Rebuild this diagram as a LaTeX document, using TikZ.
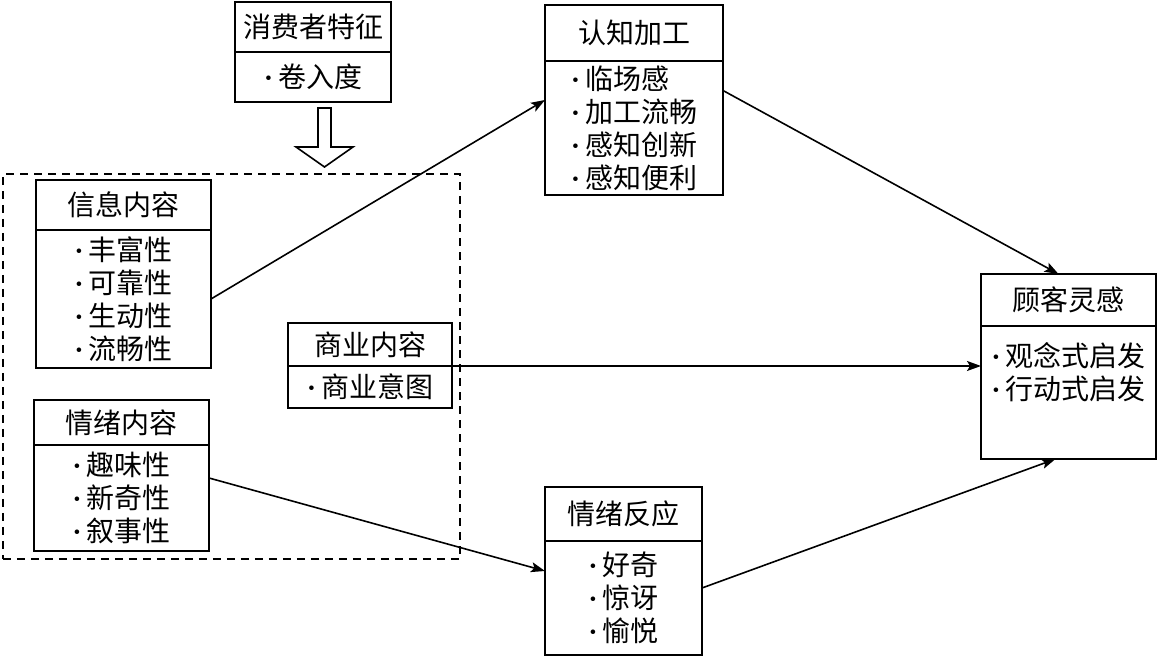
\documentclass[tikz,border=0pt]{standalone}
\usepackage{fontspec}
\setmainfont{Noto Sans CJK SC}
\newfontfamily\dotfont{Liberation Serif}
\newcommand{\bul}{{\dotfont\bfseries\char"00B7}\hspace{2.5pt}}
\usetikzlibrary{arrows.meta, positioning, calc}

\begin{document}
\begin{tikzpicture}[
  x=0.5pt, y=-0.5pt,
  font=\fontsize{14}{16.5}\selectfont,
  ttl/.style={draw, line width=1pt, inner sep=0pt, outer sep=0pt, align=center},
  bdy/.style={draw, line width=1pt, inner sep=0pt, outer sep=0pt, align=left},
  grpbox/.style={draw, line width=0.8pt, dash pattern=on 4pt off 3pt, inner sep=0pt},
  arr/.style={-{Stealth[length=7pt, width=5pt, inset=1.5pt]}, line width=0.8pt},
  hollow/.style={draw, line width=0.8pt, fill=white},
]
\useasboundingbox (0,0) rectangle (1157,656);

% ---- group of content cues
\node[grpbox, minimum width=228.5pt, minimum height=192.5pt, anchor=north west] (grp) at (2,173) {};

% ---- consumer trait
\node[ttl, minimum width=78pt, minimum height=25pt, anchor=north west] (consT) at (235,2) {消费者特征};
\node[bdy, minimum width=78pt, minimum height=25pt, anchor=north] (consB) at (consT.south) {\bul 卷入度};
\coordinate (hollowtop) at (324.5,108);
\draw[hollow] (hollowtop) ++(-6.5,0) -- ++(13,0) -- ++(0,39) -- ++(22,0) -- ++(-28.5,20) -- ++(-28.5,-20) -- ++(22,0) -- cycle;

% ---- information content
\node[ttl, minimum width=87.5pt, minimum height=25pt, anchor=north west] (infoT) at (36,180) {信息内容};
\node[bdy, minimum width=87.5pt, minimum height=69pt, anchor=north] (infoB) at (infoT.south) {\bul 丰富性\\\bul 可靠性\\\bul 生动性\\\bul 流畅性};

% ---- commercial content
\node[ttl, minimum width=82pt, minimum height=21.5pt, anchor=north west] (bizT) at (288,323) {商业内容};
\node[bdy, minimum width=82pt, minimum height=21pt, anchor=north] (bizB) at (bizT.south) {\bul 商业意图};

% ---- emotional content
\node[ttl, minimum width=87.5pt, minimum height=22.5pt, anchor=north west] (emoT) at (34,400) {情绪内容};
\node[bdy, minimum width=87.5pt, minimum height=53pt, anchor=north] (emoB) at (emoT.south) {\bul 趣味性\\\bul 新奇性\\\bul 叙事性};

% ---- cognitive processing
\node[ttl, minimum width=89pt, minimum height=28pt, anchor=north west] (cogT) at (545,5) {认知加工};
\node[bdy, minimum width=89pt, minimum height=67pt, anchor=north] (cogB) at (cogT.south) {\bul 临场感\\\bul 加工流畅\\\bul 感知创新\\\bul 感知便利};

% ---- emotional reaction
\node[ttl, minimum width=78.5pt, minimum height=27pt, anchor=north west] (reactT) at (545,487) {情绪反应};
\node[bdy, minimum width=78.5pt, minimum height=57pt, anchor=north] (reactB) at (reactT.south) {\bul 好奇\\\bul 惊讶\\\bul 愉悦};

% ---- customer inspiration
\node[ttl, minimum width=87.5pt, minimum height=26pt, anchor=north west] (inspT) at (981,274) {顾客灵感};
\node[bdy, minimum width=87.5pt, minimum height=66.5pt, anchor=north] (inspB) at (inspT.south) {};
\node[align=left, inner sep=0pt, anchor=north] (inspTxt) at ([yshift=-8pt]inspB.north) {\bul 观念式启发\\\bul 行动式启发};

% ---- paths
\draw[arr] (infoB.east) -- ($(cogT.north west)!0.5!(cogB.south west)$);
\draw[arr] ($(cogT.north east)!0.45!(cogB.south east)$) -- ([xshift=-5pt]inspT.north);
\draw[arr] (bizT.south east) -- (bizT.south east -| inspB.west);
\draw[arr] ([yshift=10pt]emoB.east) -- ($(reactT.north west)!0.5!(reactB.south west)$);
\draw[arr] ([yshift=5pt]reactB.east) -- ([xshift=-6.5pt]inspB.south);
\end{tikzpicture}
\end{document}
